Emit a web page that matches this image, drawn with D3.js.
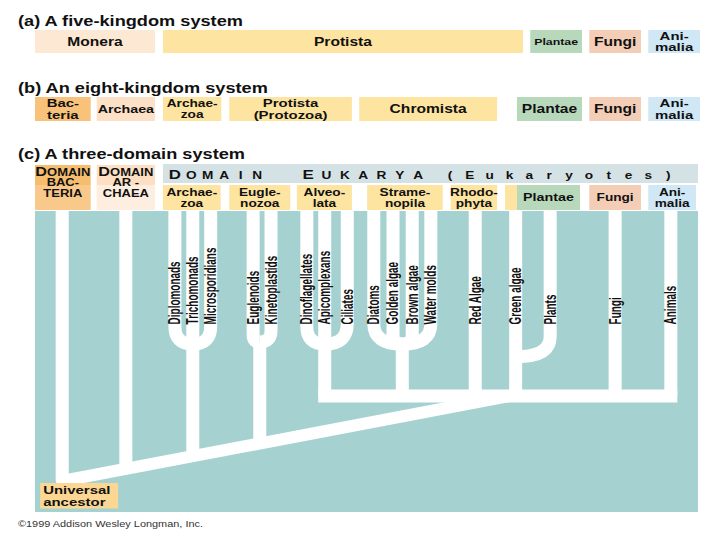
<!DOCTYPE html>
<html>
<head>
<meta charset="utf-8">
<title>Kingdoms and domains</title>
<script src="https://cdn.jsdelivr.net/npm/d3@7"></script>
<style>
  body { margin: 0; background: #fff; }
  text { font-family: "Liberation Sans", Arial, Helvetica, sans-serif; fill: #111; }
</style>
</head>
<body>
<svg id="chart" width="720" height="540"></svg>
<script>
// ---- data ----
// tips of the tree, left to right, and their column (0-100 across the tree)
const lineages = ["Bacteria", "Archaea", "Diplomonads", "Trichomonads", "Microsporidians",
  "Euglenoids", "Kinetoplastids", "Dinoflagellates", "Apicomplexans", "Ciliates",
  "Diatoms", "Golden algae", "Brown algae", "Water molds", "Red Algae",
  "Green algae", "Plants", "Fungi", "Animals"];
const lineageCol = [4.1, 13.7, 21.1, 23.8, 26.5, 32.9, 35.6, 41.0, 43.7, 47.1,
  51.1, 54.0, 56.9, 59.7, 66.4, 72.5, 77.7, 87.5, 95.9];

// clades: which tips they hold, column of their stem, depth where tips join
// (depth 0 = today, 100 = universal ancestor), and what the stem hangs from
const clades = ["Bacteria", "Archaea", "Archaezoa", "Euglenozoa", "Alveolata",
  "Stramenopila", "Red algae", "Green plants", "Fungi", "Animals"];
const cladeMembers = [[0], [1], [2, 3, 4], [5, 6], [7, 8, 9], [10, 11, 12, 13], [14], [15, 16], [17], [18]];
const cladeStem = [4.1, 13.7, 23.8, 33.9, 43.7, 55.4, 66.4, 72.5, 87.5, 95.9];
const cladeDepth = [0, 0, 49.3, 48.5, 49.3, 49.3, 0, 54, 0, 0];
const cladeParent = ["root", "root", "root", "root", "Eukarya", "Eukarya", "Eukarya", "Eukarya", "Eukarya", "Eukarya"];
const rootCol = 4.1, eukaryaCol = 71.6, eukaryaDepth = 68.5;

// kingdom boxes, with the columns each one covers ("|" = line break)
const fiveKingdoms = ["Monera", "Protista", "Plantae", "Fungi", "Ani-|malia"];
const fiveSpan = [[0, 18.1], [19.3, 73.6], [74.7, 82.5], [83.6, 91.4], [92.5, 100.3]];
const eightKingdoms = ["Bac-|teria", "Archaea", "Archae-|zoa", "Protista|(Protozoa)", "Chromista", "Plantae", "Fungi", "Ani-|malia"];
const eightSpan = [[0, 8.4], [9.3, 18.1], [19.3, 28.1], [29.3, 47.8], [48.9, 69.7], [72.7, 82.5], [83.6, 91.4], [92.5, 100.3]];
const domains = ["DOMAIN|BAC-|TERIA", "DOMAIN|AR -|CHAEA"];
const domainSpan = [[0, 8.4], [9.3, 18.1]];
const eukaryaGroups = ["Archae-|zoa", "Eugle-|nozoa", "Alveo-|lata", "Strame-|nopila", "Rhodo-|phyta", "", "Plantae", "Fungi", "Ani-|malia"];
const eukaryaSpan = [[19.3, 28.0], [29.3, 38.5], [39.5, 47.8], [50.1, 61.5], [62.7, 69.7], [70.9, 72.7], [72.7, 82.2], [83.6, 91.4], [92.5, 99.7]];
const titles = ["(a) A five-kingdom system", "(b) An eight-kingdom system", "(c) A three-domain system"];
const headerWords = ["DOMAIN", "EUKARYA", "(Eukaryotes)"];

// ---- layout ----
const svg = d3.select("#chart");
const SX = 1.3; // the lettering in the original is stretched sideways
const x = d3.scaleLinear().domain([0, 100]).range([35, 698]);
const depth = d3.scaleLinear().domain([0, 100]).range([211, 481]);

const kindFill = {Monera: "#fde8d4", Protista: "#fde4a0", Plantae: "#b8d8bb", Fungi: "#f4cdb7",
  Animalia: "#d0e7f6", Bacteria: "#f8c27a", Archaea: "#fde1c7"};
function fillFor(name) {
  if (name === "Monera") return kindFill.Monera;
  if (name === "Plantae") return kindFill.Plantae;
  if (name === "Fungi") return kindFill.Fungi;
  if (name === "Ani-|malia") return kindFill.Animalia;
  if (name === "Bac-|teria") return kindFill.Bacteria;
  if (name === "Archaea") return kindFill.Archaea;
  return kindFill.Protista;
}

function label(g, px, py, lines, size, lh, anchor) {
  const t = g.append("text")
    .attr("transform", "translate(" + px + "," + py + ") scale(" + SX + ",1)")
    .attr("text-anchor", anchor || "middle")
    .attr("font-size", size)
    .attr("font-weight", "bold");
  lines.forEach((s, i) => {
    t.append("tspan").attr("x", 0)
      .attr("y", (i - (lines.length - 1) / 2) * lh)
      .attr("dy", "0.35em").text(s);
  });
  return t;
}

function boxRow(names, spans, y0, y1, sizeOf, lh) {
  const g = svg.append("g");
  const rows = d3.zip(names, spans);
  g.selectAll("rect").data(rows).enter().append("rect")
    .attr("x", d => x(d[1][0]))
    .attr("y", y0)
    .attr("width", d => x(d[1][1]) - x(d[1][0]))
    .attr("height", y1 - y0)
    .attr("fill", d => fillFor(d[0]));
  rows.forEach(d => {
    if (d[0]) label(g, (x(d[1][0]) + x(d[1][1])) / 2, (y0 + y1) / 2, d[0].split("|"), sizeOf(d[0]), lh);
  });
}

// titles
[25.5, 92.5, 158.5].forEach((ty, i) => {
  svg.append("text")
    .attr("transform", "translate(18," + ty + ") scale(" + SX + ",1)")
    .attr("font-size", 14).attr("font-weight", "bold")
    .text(titles[i]);
});

// (a) and (b)
boxRow(fiveKingdoms, fiveSpan, 30, 53, n => n === "Plantae" ? 9.5 : (n.includes("|") ? 11.5 : 12), 11.5);
boxRow(eightKingdoms, eightSpan, 97, 121, n => n === "Archaea" ? 11 : (n === "Archae-|zoa" ? 10.5 : (n.includes("|") ? 11.5 : 12)), 11.5);

// (c) domain boxes: darker head, lighter foot
const domHead = ["#f6bd6e", "#fde0c4"], domFoot = ["#f9c98b", "#fdeee0"];
domains.forEach((d, i) => {
  const a = x(domainSpan[i][0]), b = x(domainSpan[i][1]);
  svg.append("rect").attr("x", a).attr("y", 165).attr("width", b - a).attr("height", 20).attr("fill", domHead[i]);
  svg.append("rect").attr("x", a).attr("y", 185).attr("width", b - a).attr("height", 25).attr("fill", domFoot[i]);
  const parts = d.split("|");
  const t = svg.append("text")
    .attr("transform", "translate(" + (a + b) / 2 + ",175.5) scale(" + SX + ",1)")
    .attr("text-anchor", "middle").attr("font-weight", "bold").attr("font-size", 10);
  t.append("tspan").attr("x", 0).attr("y", 0).attr("font-size", 12.5).text(parts[0][0]);
  t.append("tspan").text(parts[0].slice(1));
  t.append("tspan").attr("x", 0).attr("y", 11).text(parts[1]);
  t.append("tspan").attr("x", 0).attr("y", 22).text(parts[2]);
});

// (c) Eukarya header band with spaced lettering
svg.append("rect").attr("x", x(19.3)).attr("y", 164).attr("width", x(100) - x(19.3)).attr("height", 19).attr("fill", "#d4e2e5");
const wordSpan = [[21.1, 33.5], [41.2, 57.8], [62.6, 95.5]];
headerWords.forEach((w, wi) => {
  const pos = d3.scalePoint().domain(d3.range(w.length)).range([x(wordSpan[wi][0]), x(wordSpan[wi][1])]);
  w.split("").forEach((ch, ci) => {
    svg.append("text")
      .attr("transform", "translate(" + pos(ci) + ",179) scale(" + SX + ",1)")
      .attr("text-anchor", "middle").attr("font-weight", "bold")
      .attr("font-size", (ci === 0 && wi < 2) ? 13 : 10.5)
      .text(ch);
  });
});
boxRow(eukaryaGroups, eukaryaSpan, 185, 210, n => n === "Plantae" ? 11 : 10.5, 11);

// ---- tree ----
svg.append("rect").attr("x", x(0)).attr("y", depth(0)).attr("width", x(100) - x(0)).attr("height", 512 - depth(0)).attr("fill", "#a5d2d0");

const tree = svg.append("g").attr("fill", "none").attr("stroke", "#fff").attr("stroke-width", 13);
const tipY = depth(0), eY = depth(eukaryaDepth);
const diag = d3.scaleLinear().domain([rootCol, eukaryaCol]).range([depth(100), eY]);

// trunk from the universal ancestor up to the eukaryote node
tree.append("path")
  .attr("stroke-width", 12)
  .attr("d", "M" + x(rootCol) + "," + tipY + "V" + depth(100) + "L" + x(eukaryaCol) + "," + eY);

// eukaryote cross-bar
const eukStems = cladeStem.filter((c, i) => cladeParent[i] === "Eukarya");
tree.append("path").attr("stroke-linecap", "square")
  .attr("d", "M" + x(d3.min(eukStems)) + "," + eY + "H" + x(d3.max(eukStems)));

clades.forEach((c, i) => {
  const xs = x(cladeStem[i]);
  const ym = depth(cladeDepth[i]);
  const endY = cladeParent[i] === "root" ? diag(cladeStem[i]) : eY;
  let fromTip = false;
  cladeMembers[i].forEach(li => {
    const xl = x(lineageCol[li]);
    if (Math.abs(xl - xs) < 0.5) { fromTip = true; return; }
    const r = Math.min(Math.abs(xl - xs), 20);
    tree.append("path").attr("d", "M" + xl + "," + tipY + "V" + (ym - r) + "Q" + xl + "," + ym + " " + xs + "," + ym);
  });
  tree.append("path").attr("d", "M" + xs + "," + (fromTip ? tipY : ym) + "V" + endY);
});

// tip names, written up the white branches
svg.append("g").selectAll("text")
  .data(d3.range(2, lineages.length))
  .enter().append("text")
  .attr("transform", i => "translate(" + x(lineageCol[i]) + "," + depth(42) + ") rotate(-90) scale(0.83," + SX + ")")
  .attr("font-size", 12)
  .attr("font-weight", "bold")
  .attr("dy", "0.35em")
  .text(i => lineages[i]);

// universal ancestor
const ua = svg.append("g");
ua.append("rect").attr("x", x(rootCol) - 22).attr("y", depth(100) + 2).attr("width", 78).attr("height", 25.5).attr("fill", "#fcd794");
label(ua, x(rootCol) - 19, depth(100) + 14.75, ["Universal", "ancestor"], 11.5, 12.3, "start");

svg.append("text")
  .attr("transform", "translate(18,527) scale(" + SX + ",1)")
  .attr("font-size", 8.4).style("fill", "#333")
  .text("\u00a91999 Addison Wesley Longman, Inc.");
</script>
</body>
</html>
